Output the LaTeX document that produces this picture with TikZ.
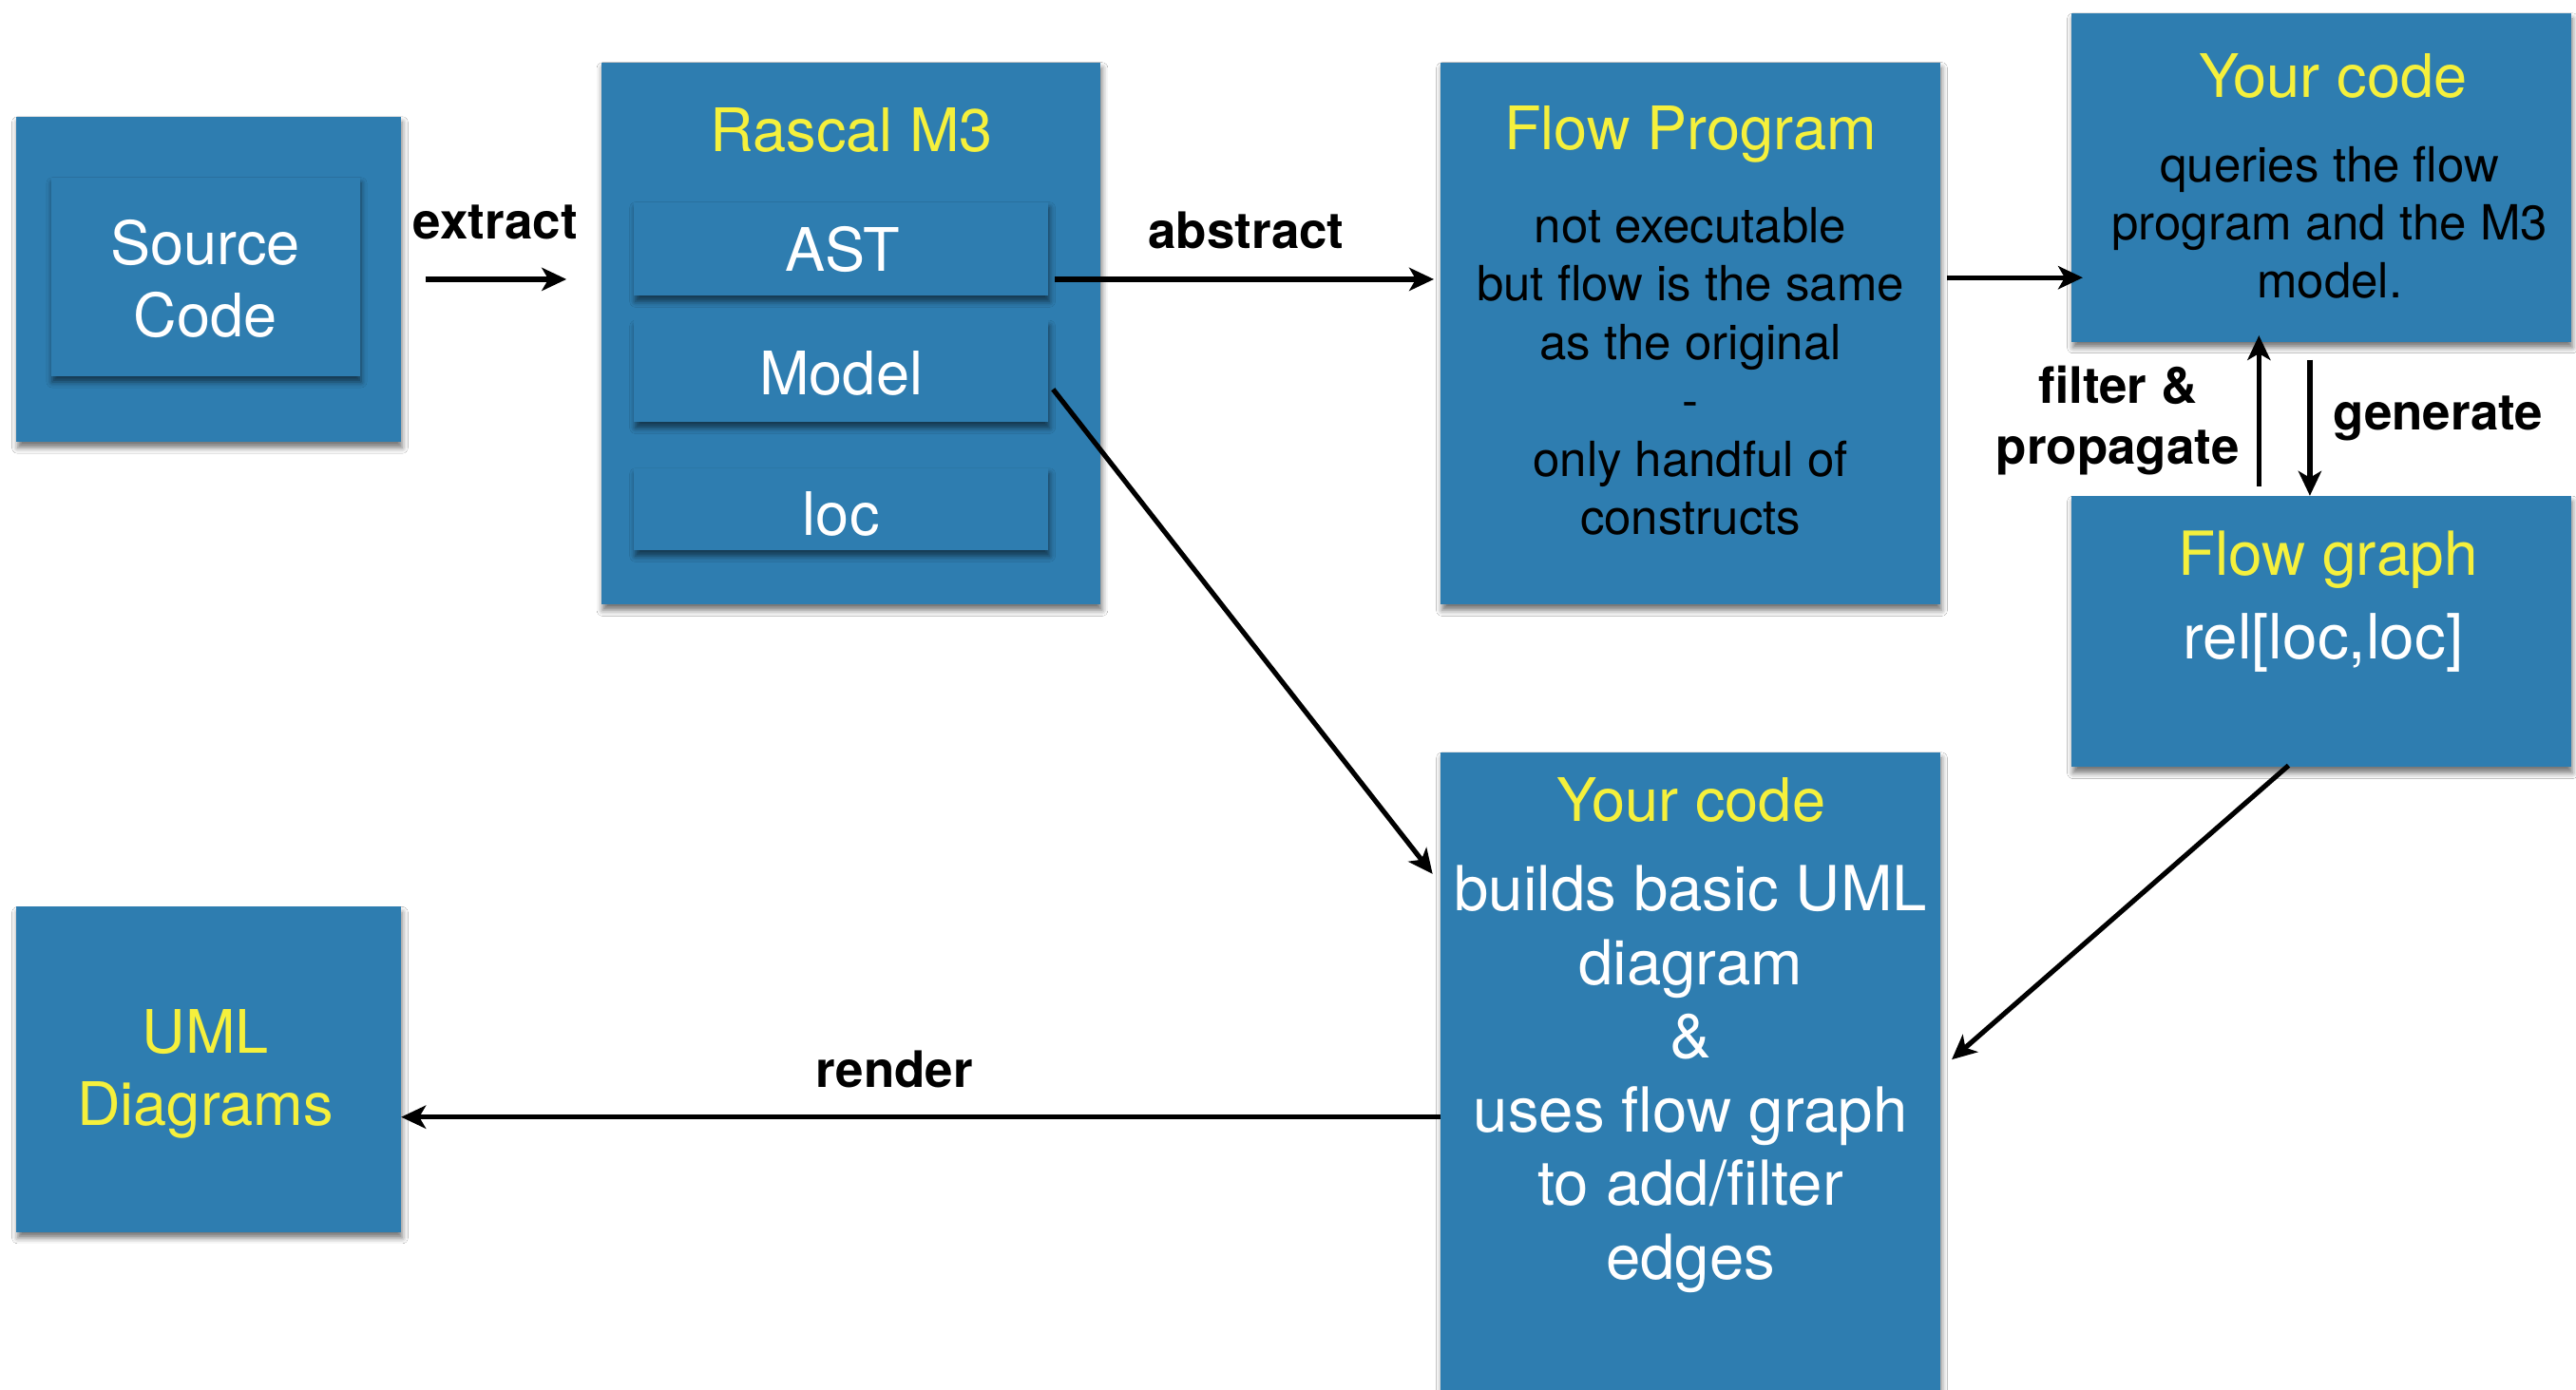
\documentclass[tikz,border=0pt]{standalone}
\usepackage{fontspec}
\setmainfont{TeX Gyre Heros}
\usetikzlibrary{arrows.meta,shadows.blur}
\definecolor{cardblue}{RGB}{46,125,176}
\definecolor{titleyellow}{RGB}{245,240,60}
\newcommand\fsz[2]{\fontsize{#1}{#2}\selectfont}
\tikzset{
  card/.style={fill=cardblue, draw=none, inner sep=0pt,
    blur shadow={shadow xshift=0.8pt, shadow yshift=-3.5pt,
      shadow blur radius=3.5pt, shadow opacity=55}},
  ttl/.style={text=titleyellow, inner sep=0pt, font=\fsz{36.5}{44}},
  whitetxt/.style={text=white, inner sep=0pt, align=center},
  blacktxt/.style={text=black, inner sep=0pt, align=center},
  lbl/.style={text=black, inner sep=0pt, align=center, font=\bfseries\fsz{30.6}{37}},
  arr/.style={line width=3pt, -{Stealth[length=15pt,width=14pt,inset=4pt]}}
}
\begin{document}
\begin{tikzpicture}[x=1pt,y=-1pt]
\useasboundingbox[fill=white] (0,0) rectangle (1568,846);

% ---- boxes ----
\node[card, minimum width=234, minimum height=198] (src) at (127,170) {};
\node[card, minimum width=188, minimum height=121] (srcin) at (125,168.5) {};
\node[card, minimum width=304, minimum height=330] (rascal) at (518,203) {};
\node[card, minimum width=252, minimum height=57] (ast) at (512,151.5) {};
\node[card, minimum width=252, minimum height=62] (model) at (512,226) {};
\node[card, minimum width=252, minimum height=50] (loc) at (512,310) {};
\node[card, minimum width=304, minimum height=330] (fp) at (1029,203) {};
\node[card, minimum width=304, minimum height=200] (yc1) at (1413,108) {};
\node[card, minimum width=304, minimum height=165] (fg) at (1413,384.5) {};
\node[card, minimum width=304, minimum height=392] (yc2) at (1029,654) {};
\node[card, minimum width=234, minimum height=198] (uml) at (127,651) {};

% ---- texts inside boxes ----
\node[whitetxt, font=\fsz{36.5}{44}] (srcT) at (125,169.5) {Source\\Code};
\node[ttl] (rascalT) at (518.5,79) {Rascal M3};
\node[whitetxt, font=\fsz{36.5}{44}] (astT) at (513,152) {AST};
\node[whitetxt, font=\fsz{36.5}{44}] (modelT) at (512,227) {Model};
\node[whitetxt, font=\fsz{36.5}{44}] (locT) at (512,313) {loc};

\node[ttl] (fpT) at (1029,82) {Flow Program};
\node[blacktxt, font=\fsz{29.5}{35.6}] (fpB) at (1029,226) {not executable\\but flow is the same\\as the original\\-\\only handful of\\constructs};

\node[ttl] (yc1T) at (1420,46) {Your code};
\node[blacktxt, font=\fsz{29.5}{35.5}] (yc1B) at (1418,135.5) {queries the flow\\program and the M3\\model.};

\node[ttl, font=\fsz{37}{44}] (fgT) at (1417,341) {Flow graph};
\node[whitetxt, font=\fsz{38}{44}] (fgB) at (1414,391) {rel[loc,loc]};

\node[ttl] (yc2T) at (1029.5,487) {Your code};
\node[whitetxt, font=\fsz{37.8}{44.8}] (yc2B) at (1029,657) {builds basic UML\\diagram\\\&\\uses flow graph\\to add/filter\\edges};

\node[ttl, align=center] (umlT) at (125,654) {UML\\Diagrams};

% ---- connector labels ----
\node[lbl] (extractL) at (301.5,135) {extract};
\node[lbl] (abstractL) at (758.5,140) {abstract};
\node[lbl] (renderL) at (544.5,651) {render};
\node[lbl] (filterL) at (1289,256) {filter \&\\propagate};
\node[lbl] (generateL) at (1484,255) {generate};

% ---- connectors ----
\coordinate (exA) at (259,170);
\draw[arr] (exA) -- (exA -| rascal.west) [shorten >=21pt];
\coordinate (abA) at (642,170);
\draw[arr] (abA) -- (abA -| fp.west) [shorten >=4pt];
\coordinate (fpA) at (1185,169);
\draw[arr] (fpA) -- (fpA -| yc1.west) [shorten >=-7pt];
\coordinate (upA) at (1375,296);
\draw[arr] (upA) -- (upA |- yc1.south) [shorten >=-4pt];
\coordinate (dnA) at (1406,219);
\draw[arr] (dnA) -- (dnA |- fg.north);
\coordinate (fgA) at (1393,466);
\coordinate (fgB2) at (1188,645);
\draw[arr] (fgA) -- (fgB2);
\coordinate (mdA) at (641,237);
\coordinate (mdB) at (872,532);
\draw[arr] (mdA) -- (mdB);
\coordinate (rdA) at (877,680);
\draw[arr] (rdA) -- (rdA -| uml.east);
\end{tikzpicture}
\end{document}
